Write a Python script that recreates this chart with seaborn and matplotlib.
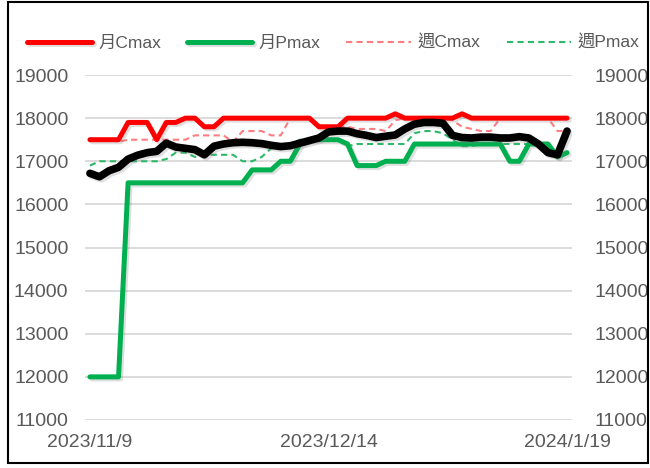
import matplotlib
matplotlib.use("Agg")
import matplotlib.pyplot as plt
import matplotlib.patheffects as pe
from matplotlib.patches import Rectangle
import pandas as pd
import seaborn as sns

# 交易日 (2024/1/1 休市)
dates = pd.bdate_range("2023-11-09", "2024-01-19")
dates = dates[dates != pd.Timestamp("2024-01-01")]

month_cmax = [17500, 17500, 17500, 17500, 17900, 17900, 17900, 17500, 17900, 17900,
              18000, 18000, 17800, 17800, 18000, 18000, 18000, 18000, 18000, 18000,
              18000, 18000, 18000, 18000, 17800, 17800, 17800, 18000, 18000, 18000,
              18000, 18000, 18100, 18000, 18000, 18000, 18000, 18000, 18000, 18100,
              18000, 18000, 18000, 18000, 18000, 18000, 18000, 18000, 18000, 18000,
              18000]
month_pmax = [12000, 12000, 12000, 12000, 16500, 16500, 16500, 16500, 16500, 16500,
              16500, 16500, 16500, 16500, 16500, 16500, 16500, 16800, 16800, 16800,
              17000, 17000, 17400, 17500, 17500, 17500, 17500, 17400, 16900, 16900,
              16900, 17000, 17000, 17000, 17400, 17400, 17400, 17400, 17400, 17400,
              17400, 17400, 17400, 17400, 17000, 17000, 17400, 17400, 17400, 17100,
              17200]
week_cmax = [17500, 17500, 17500, 17450, 17500, 17500, 17500, 17500, 17500, 17500,
             17500, 17600, 17600, 17600, 17600, 17450, 17700, 17700, 17700, 17600,
             17600, 18000, 18000, 18000, 17800, 17800, 17800, 17800, 17750, 17750,
             17750, 17700, 17950, 18000, 18000, 18000, 18000, 18000, 17950, 17800,
             17750, 17700, 17700, 18000, 18000, 18000, 18000, 18000, 18000, 17700,
             17700]
week_pmax = [16900, 17000, 17000, 17000, 17000, 17000, 17000, 17000, 17050, 17200,
             17200, 17100, 17150, 17150, 17150, 17150, 17000, 17000, 17100, 17300,
             17300, 17400, 17500, 17500, 17500, 17500, 17500, 17350, 17400, 17400,
             17400, 17400, 17400, 17400, 17650, 17700, 17700, 17650, 17500, 17350,
             17350, 17400, 17400, 17400, 17400, 17400, 17400, 17400, 17400, 17100,
             17200]
index_vals = [16720, 16640, 16780, 16860, 17050, 17140, 17200, 17230, 17420, 17330,
              17300, 17270, 17150, 17350, 17400, 17430, 17440, 17430, 17410, 17370,
              17340, 17360, 17420, 17480, 17540, 17680, 17700, 17700, 17640, 17600,
              17550, 17580, 17610, 17750, 17860, 17900, 17900, 17880, 17600, 17550,
              17540, 17560, 17560, 17540, 17540, 17570, 17540, 17400, 17200, 17150,
              17700]

df = pd.DataFrame({
    "i": range(len(dates)),
    "月Cmax": month_cmax,
    "月Pmax": month_pmax,
    "週Cmax": week_cmax,
    "週Pmax": week_pmax,
    "指數": index_vals,
})

sns.set_theme(style="white")
plt.rcParams["font.family"] = ["Liberation Sans", "Noto Sans CJK TC"]

fig = plt.figure(figsize=(6.5, 4.68), dpi=100)
ax = fig.add_axes([0.131, 0.1026, 0.7487, 0.7371])

shadow = [pe.SimpleLineShadow(offset=(1.5, -1.5), shadow_color="grey", alpha=0.25), pe.Normal()]

# 虛線先畫, 粗線在上
sns.lineplot(data=df, x="i", y="週Cmax", ax=ax, color="#FF7C80", linewidth=1.5,
             linestyle=(0, (3, 2)), label="週Cmax")
sns.lineplot(data=df, x="i", y="週Pmax", ax=ax, color="#2DB86A", linewidth=1.5,
             linestyle=(0, (3, 2)), label="週Pmax")
sns.lineplot(data=df, x="i", y="月Cmax", ax=ax, color="#FF0000", linewidth=3.6,
             label="月Cmax", path_effects=shadow)
sns.lineplot(data=df, x="i", y="月Pmax", ax=ax, color="#00B050", linewidth=3.6,
             label="月Pmax", path_effects=shadow)
sns.lineplot(data=df, x="i", y="指數", ax=ax, color="black", linewidth=5.5,
             label="_nolegend_", path_effects=shadow)

ax.set_xlim(-0.5, len(dates) - 0.5)
ax.set_ylim(11000, 19000)
yt = list(range(11000, 19001, 1000))
ax.set_yticks(yt)
xt = [0, 25, 50]
ax.set_xticks(xt)
ax.set_xticklabels([f"{d.year}/{d.month}/{d.day}" for d in dates[xt]])
ax.set_xlabel("")
ax.set_ylabel("")
ax.grid(axis="y", color="#D9D9D9", linewidth=1.3)
ax.grid(axis="x", visible=False)
for s in ax.spines.values():
    s.set_visible(False)
ax.tick_params(axis="both", length=0, labelsize=14, labelcolor="#595959")
ax.tick_params(axis="x", pad=10)
ax.tick_params(axis="y", pad=12)

ax2 = ax.twinx()
ax2.set_ylim(11000, 19000)
ax2.set_yticks(yt)
ax2.grid(False)
for s in ax2.spines.values():
    s.set_visible(False)
ax2.tick_params(axis="y", length=0, labelsize=14, labelcolor="#595959", pad=16)

handles, labels = ax.get_legend_handles_labels()
order = [labels.index(n) for n in ["月Cmax", "月Pmax", "週Cmax", "週Pmax"]]
ax.legend([handles[k] for k in order], [labels[k] for k in order],
          ncol=4, loc="center", bbox_to_anchor=(0.513, 0.908), bbox_transform=fig.transFigure,
          frameon=False, fontsize=12.5, labelcolor="#595959", handlelength=3.7,
          handletextpad=0.4, columnspacing=1.5)

fig.add_artist(Rectangle((8 / 650, 5 / 468), 640 / 650, 461 / 468, transform=fig.transFigure,
                         fill=False, edgecolor="black", linewidth=1.5))

fig.savefig("out.png", dpi=100)
